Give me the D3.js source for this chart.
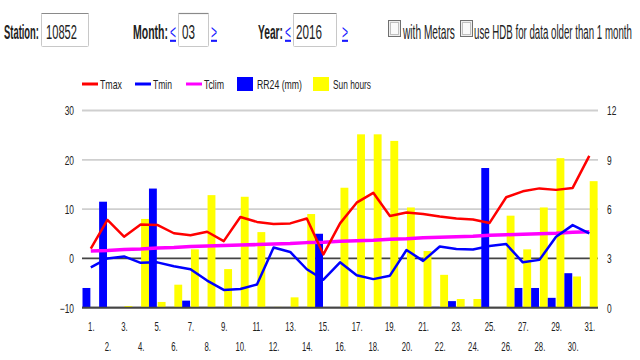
<!DOCTYPE html>
<html><head><meta charset="utf-8">
<script src="https://cdn.jsdelivr.net/npm/d3@7"></script>
<style>html,body{margin:0;padding:0;background:#fff;}svg{display:block;font-family:"Liberation Sans",Arial,sans-serif;}</style>
</head><body><svg id="c" width="640" height="360"></svg>
<script>
const days = [1,2,3,4,5,6,7,8,9,10,11,12,13,14,15,16,17,18,19,20,21,22,23,24,25,26,27,28,29,30,31];
const tmax = [2.0,7.8,4.4,6.9,6.8,5.1,4.7,5.4,3.5,8.4,7.4,7.0,7.1,8.1,0.8,7.1,11.3,13.3,8.6,9.3,9.0,8.5,8.1,7.9,7.2,12.4,13.6,14.2,13.9,14.3,20.8];
const tmin = [-1.8,0.0,0.4,-0.9,-0.8,-1.6,-2.2,-4.5,-6.4,-6.2,-5.3,2.2,1.3,-2.2,-4.3,-0.8,-3.4,-4.2,-3.5,1.7,-0.5,2.4,1.9,1.8,2.5,2.9,-0.8,-0.3,4.4,6.75,5.1];
const tclim = [1.5,1.6,1.8,1.9,2.1,2.2,2.4,2.5,2.6,2.7,2.8,2.9,3.0,3.2,3.3,3.5,3.6,3.7,3.9,4.0,4.2,4.3,4.4,4.5,4.7,4.8,4.9,5.0,5.1,5.3,5.4];
const rr24 = [1.2,6.45,0,0,7.25,0,0.43,0,0,0,0,0,0,0,4.5,0,0,0,0,0,0,0.05,0.4,0,8.5,0,1.2,1.2,0.6,2.1,0];
const sun = [0,0,0.1,5.4,0.35,1.4,3.55,6.85,2.35,6.75,4.6,0.05,0.63,5.7,0,7.3,10.55,10.55,10.15,6.1,3.45,2.0,0.53,0.53,0,5.6,3.55,6.1,9.1,1.9,7.7];
const leftTicks = [-10,0,10,20,30];
const rightTicks = [0,3,6,9,12];
const barSeries = ["rr24","sun"];
const legendItems = [
  {name:"Tmax", color:"#ff0000", type:"line"},
  {name:"Tmin", color:"#0000ff", type:"line"},
  {name:"Tclim", color:"#ff00ff", type:"line"},
  {name:"RR24 (mm)", color:"#0000ff", type:"box"},
  {name:"Sun hours", color:"#ffff00", type:"box"}
];
const header = {station:"10852", month:"03", year:"2016"};

const svg = d3.select("#c");
const TXT = "#222";

// squeeze a text horizontally to a target width (or factor) using a transform
function squeeze(node, x, y, w, factor) {
  const nat = node.getComputedTextLength();
  const sx = w ? w / nat : factor;
  d3.select(node).attr("x", 0).attr("y", 0)
    .attr("transform", `translate(${x},${y}) scale(${sx},1)`);
}
function txt(g, x, y, s, size, w, o={}) {
  const t = g.append("text").text(s)
    .attr("font-size", size).attr("fill", o.fill || TXT)
    .attr("text-anchor", o.anchor || "start");
  if (o.bold) t.attr("font-weight", "bold");
  if (o.underline) t.attr("text-decoration", "underline");
  squeeze(t.node(), x, y, w, o.factor || 1);
  return t;
}

// ---- header ----
const H = svg.append("g");
const boxes = [[41,88],[178,208],[293,336]];
boxes.forEach(([a,b]) => {
  H.append("rect").attr("x", a+0.5).attr("y", 13.5).attr("width", b-a).attr("height", 33)
    .attr("fill", "#fff").attr("stroke", "#c8c8c8").attr("rx", 1);
  H.append("line").attr("x1", a+0.5).attr("x2", b+0.5).attr("y1", 13.5).attr("y2", 13.5)
    .attr("stroke", "#8a8a8a").attr("stroke-width", 1.2);
});
const hb = 38.5, hs = 21;
txt(H, 4, hb, "Station:", hs, 35, {bold:true});
txt(H, 46, hb, header.station, hs, 31);
txt(H, 133, hb, "Month:", hs, 35, {bold:true});
txt(H, 170, hb, "<", hs, 6, {fill:"#1a1aff", underline:true});
txt(H, 182, hb, header.month, hs, 13);
txt(H, 211, hb, ">", hs, 6, {fill:"#1a1aff", underline:true});
txt(H, 258, hb, "Year:", hs, 25, {bold:true});
txt(H, 285, hb, "<", hs, 6, {fill:"#1a1aff", underline:true});
txt(H, 296, hb, header.year, hs, 26);
txt(H, 342, hb, ">", hs, 6, {fill:"#1a1aff", underline:true});
[388, 460].forEach(x => {
  H.append("rect").attr("x", x+0.5).attr("y", 20.5).attr("width", 12).attr("height", 16)
    .attr("fill", "#eee").attr("stroke", "#707070");
  H.append("rect").attr("x", x+2.5).attr("y", 22.5).attr("width", 8).attr("height", 12)
    .attr("fill", "#fafafa").attr("stroke", "#c0c0c0");
});
txt(H, 403, hb, "with Metars", hs, 52);
txt(H, 474, hb, "use HDB for data older than 1 month", hs, 158);

// ---- chart ----
const x0 = d3.scaleBand().domain(days).range([82.5, 597.6]).paddingInner(0).paddingOuter(0);
const x1 = d3.scaleBand().domain(barSeries).range([0, x0.bandwidth()]).paddingInner(0.1).paddingOuter(0);
const yL = d3.scaleLinear().domain([-10, 30]).range([307.7, 110.5]);
const yR = d3.scaleLinear().domain([0, 12]).range([307.7, 110.5]);
const G = svg.append("g");

// gridlines
G.selectAll("line.grid").data(leftTicks).join("line")
  .attr("x1", 82).attr("x2", 598)
  .attr("y1", d => yL(d)).attr("y2", d => yL(d))
  .attr("stroke", d => d <= 0 ? "#444" : "#cfcfcf")
  .attr("stroke-width", 1.8);

// axes
const axL = G.append("g").attr("transform", "translate(82,0)")
  .call(d3.axisLeft(yL).tickValues(leftTicks).tickSize(0).tickPadding(8));
const axR = G.append("g").attr("transform", "translate(598,0)")
  .call(d3.axisRight(yR).tickValues(rightTicks).tickSize(0).tickPadding(9));
[axL, axR].forEach(a => {
  a.select(".domain").remove();
  a.selectAll("text").attr("font-size", 12).attr("fill", TXT)
    .attr("font-family", "Liberation Sans, Arial, sans-serif")
    .attr("dy", null)
    .each(function(){ squeeze(this, +d3.select(this).attr("x"), 4.3, null, 0.7); });
});

// x labels
const axX = G.append("g");
axX.selectAll("text").data(days).join("text")
  .attr("text-anchor", "middle").attr("font-size", 12.5).attr("fill", TXT)
  .text(d => d + ".")
  .each(function(d, i){ squeeze(this, x0(d) + x0.bandwidth()/2 + 0.5, i % 2 === 0 ? 330.5 : 350.5, null, 0.62); });

// bars
const barData = days.map((d,i) => ({day:d, vals:[{k:"rr24", v:rr24[i], c:"#0000ff"},{k:"sun", v:sun[i], c:"#ffff00"}]}));
G.selectAll("g.day").data(barData).join("g")
  .attr("transform", d => `translate(${x0(d.day)},0)`)
  .selectAll("rect").data(d => d.vals.filter(v => v.v > 0)).join("rect")
  .attr("x", v => x1(v.k)).attr("width", x1.bandwidth())
  .attr("y", v => yR(v.v)).attr("height", v => yR(0) - yR(v.v))
  .attr("fill", v => v.c);

// redraw bottom line over bars
G.append("line").attr("x1", 82).attr("x2", 598).attr("y1", yL(-10)).attr("y2", yL(-10))
  .attr("stroke", "#444").attr("stroke-width", 1.8);

// lines
const cx = d => x0(d) + x0.bandwidth()/2;
const lineGen = arr => d3.line().x((d,i) => cx(days[i])).y(d => yL(d))(arr);
G.append("path").attr("d", lineGen(tclim)).attr("fill", "none").attr("stroke", "#ff00ff").attr("stroke-width", 3.5).attr("stroke-linejoin","round");
G.append("path").attr("d", lineGen(tmin)).attr("fill", "none").attr("stroke", "#0000ff").attr("stroke-width", 2.5).attr("stroke-linejoin","round");
G.append("path").attr("d", lineGen(tmax)).attr("fill", "none").attr("stroke", "#ff0000").attr("stroke-width", 2.5).attr("stroke-linejoin","round");

// legend
const legPos = [{m:82, t:100, w:22},{m:135, t:153, w:19},{m:186, t:204, w:20},{m:237, t:257, w:45},{m:313, t:333, w:38}];
const L = svg.append("g");
legendItems.forEach((it, i) => {
  const p = legPos[i];
  if (it.type === "line") {
    L.append("line").attr("x1", p.m).attr("x2", p.m + 16).attr("y1", 84).attr("y2", 84)
      .attr("stroke", it.color).attr("stroke-width", 3);
  } else {
    L.append("rect").attr("x", p.m).attr("y", 77).attr("width", 16).attr("height", 14).attr("fill", it.color);
  }
  txt(L, p.t, 89, it.name, 13, p.w);
});
</script></body></html>
